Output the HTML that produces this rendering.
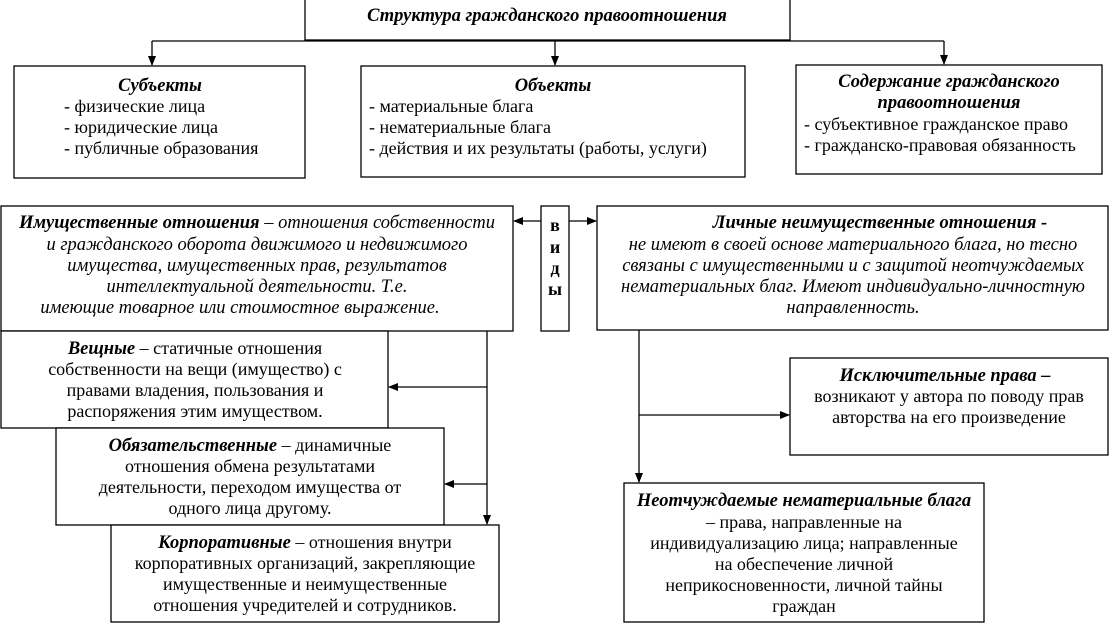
<!DOCTYPE html>
<html><head><meta charset="utf-8"><style>
html,body{margin:0;padding:0;background:#fff;}
svg{display:block;}
text{font-family:"Liberation Serif",serif;font-size:18px;fill:#000;}
.i{font-style:italic;font-size:18.5px;}
.b{font-weight:bold;}
</style></head><body>
<svg width="1111" height="624" viewBox="0 0 1111 624" xmlns="http://www.w3.org/2000/svg">
<defs><marker id="a" markerWidth="10" markerHeight="10" refX="9" refY="5" orient="auto" markerUnits="userSpaceOnUse"><path d="M0,1 L10,5 L0,9 Z" fill="#000"/></marker></defs>
<g fill="#fff" stroke="#000" stroke-width="1.3">
<rect x="305" y="-2" width="485" height="42"/>
<rect x="14" y="66" width="291" height="112"/>
<rect x="361" y="66" width="384" height="111"/>
<rect x="796" y="65" width="306" height="109"/>
<rect x="1" y="206" width="512" height="125"/>
<rect x="541" y="206" width="28" height="125"/>
<rect x="597" y="206" width="511" height="124"/>
<rect x="1" y="331" width="387" height="97"/>
<rect x="56" y="428" width="388" height="97"/>
<rect x="111" y="525" width="388" height="97"/>
<rect x="790" y="358" width="318" height="97"/>
<rect x="624" y="483" width="360" height="139"/>
</g>
<g stroke="#000" stroke-width="1.3" fill="none">
<path d="M152,41 H944"/>
<path d="M152,41 V65" marker-end="url(#a)"/>
<path d="M555,41 V65" marker-end="url(#a)"/>
<path d="M944,41 V64" marker-end="url(#a)"/>
<path d="M541,221 H514" marker-end="url(#a)"/>
<path d="M569,221 H596" marker-end="url(#a)"/>
<path d="M487,331 V524" marker-end="url(#a)"/>
<path d="M487,387 H389" marker-end="url(#a)"/>
<path d="M487,484 H445" marker-end="url(#a)"/>
<path d="M639,330 V482" marker-end="url(#a)"/>
<path d="M639,415 H789" marker-end="url(#a)"/>
</g>
<g text-anchor="middle">
<text x="547" y="21" class="i b">Структура гражданского правоотношения</text>
<text x="160" y="91" class="i b">Субъекты</text>
<text x="553" y="91" class="i b">Объекты</text>
<text x="949" y="87" class="i b">Содержание гражданского</text>
<text x="949" y="108" class="i b">правоотношения</text>
<text x="555" y="231" class="b">в</text>
<text x="555" y="253" class="b">и</text>
<text x="555" y="274" class="b">д</text>
<text x="555" y="295" class="b">ы</text>
<text x="257" y="228" class="i"><tspan class="b">Имущественные отношения</tspan> – отношения собственности</text>
<text x="257" y="250" class="i">и гражданского оборота движимого и недвижимого</text>
<text x="257" y="271" class="i">имущества, имущественных прав, результатов</text>
<text x="257" y="292" class="i">интеллектуальной деятельности. Т.е.</text>
<text x="240" y="313" class="i">имеющие товарное или стоимостное выражение.</text>
<text x="880" y="228" class="i b">Личные неимущественные отношения  -</text>
<text x="853" y="250" class="i">не имеют в  своей основе материального блага, но тесно</text>
<text x="853" y="271" class="i">связаны с имущественными и с защитой неотчуждаемых</text>
<text x="853" y="292" class="i">нематериальных благ. Имеют индивидуально-личностную</text>
<text x="853" y="313" class="i">направленность.</text>
<text x="195" y="354"><tspan class="i b">Вещные</tspan> – статичные отношения</text>
<text x="195" y="375">собственности на вещи (имущество) с</text>
<text x="195" y="396">правами владения, пользования и</text>
<text x="195" y="417">распоряжения этим имуществом.</text>
<text x="250" y="451"><tspan class="i b">Обязательственные</tspan> – динамичные</text>
<text x="250" y="472">отношения обмена результатами</text>
<text x="250" y="493">деятельности, переходом имущества от</text>
<text x="250" y="514">одного лица другому.</text>
<text x="305" y="548"><tspan class="i b">Корпоративные</tspan> – отношения внутри</text>
<text x="305" y="569">корпоративных организаций, закрепляющие</text>
<text x="305" y="590">имущественные и неимущественные</text>
<text x="305" y="611">отношения учредителей и сотрудников.</text>
<text x="945" y="381" class="i b">Исключительные права –</text>
<text x="949" y="402">возникают у автора по поводу прав</text>
<text x="949" y="423">авторства  на его произведение</text>
<text x="804" y="506" class="i b">Неотчуждаемые нематериальные блага</text>
<text x="804" y="528">– права, направленные на</text>
<text x="804" y="549">индивидуализацию лица; направленные</text>
<text x="804" y="570">на обеспечение личной</text>
<text x="804" y="591">неприкосновенности, личной тайны</text>
<text x="804" y="612">граждан</text>
</g>
<g>
<text x="64" y="112">- физические лица</text>
<text x="64" y="133">- юридические лица</text>
<text x="64" y="154">- публичные образования</text>
<text x="369" y="112">- материальные блага</text>
<text x="369" y="133">- нематериальные блага</text>
<text x="369" y="154">- действия и их результаты  (работы, услуги)</text>
<text x="804" y="130">- субъективное гражданское право</text>
<text x="804" y="151">- гражданско-правовая обязанность</text>
</g>
</svg>
</body></html>
